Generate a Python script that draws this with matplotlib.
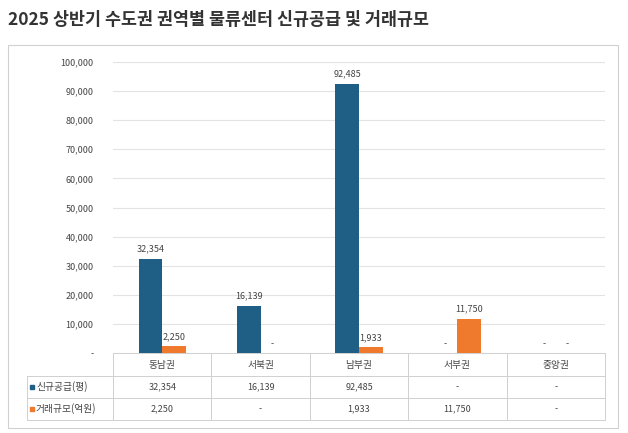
import matplotlib

matplotlib.use("Agg")

import matplotlib.pyplot as plt
import numpy as np
from matplotlib import font_manager
from matplotlib.patches import Rectangle

_avail = {f.name for f in font_manager.fontManager.ttflist}
_cjk = [n for n in ["Noto Sans CJK KR", "Noto Sans CJK JP", "Noto Sans CJK SC", "Noto Sans CJK TC"] if n in _avail]
plt.rcParams["font.family"] = _cjk + ["DejaVu Sans"]

regions = ["동남권", "서북권", "남부권", "서부권", "중앙권"]
supply = [32354, 16139, 92485, 0, 0]  # 0 = "-"
deals = [2250, 0, 1933, 11750, 0]
series_names = ["신규공급(평)", "거래규모(억원)"]
colors = ["#1f5f86", "#ef7a2e"]

W, H = 628, 433
fig = plt.figure(figsize=(W / 100, H / 100), dpi=100)


def fx(px):
    return px / W


def fy(py):
    return 1 - py / H


fig.text(fx(8), fy(20), "2025 상반기 수도권 권역별 물류센터 신규공급 및 거래규모",
         fontsize=12.5, fontweight="bold", color="#333333", va="center")
fig.patches.append(Rectangle((fx(8), fy(428)), fx(610), 383 / H, transform=fig.transFigure,
                             fill=False, edgecolor="#d0d0d0", lw=0.8))

left, right, top, bottom = 113, 605, 62, 353
ax = fig.add_axes([fx(left), fy(bottom), fx(right - left), (bottom - top) / H])
x = np.arange(len(regions))
bw = 0.24
for i, (vals, c) in enumerate(zip([supply, deals], colors)):
    off = (i - 0.5) * bw
    ax.bar(x + off, vals, bw, color=c, edgecolor="none")
    for xi, v in zip(x, vals):
        txt = f"{v:,}" if v else "-"
        ax.text(xi + off, v + 1800, txt, ha="center", va="bottom", fontsize=6.5, color="#444444")

ax.set_xlim(-0.5, len(regions) - 0.5)
ax.set_ylim(0, 100000)
ax.set_yticks(np.arange(0, 100001, 10000))
ax.set_yticklabels(["-"] + [f"{v:,}" for v in range(10000, 100001, 10000)], fontsize=6.5, color="#444444")
ax.yaxis.grid(True, color="#e3e3e3", lw=0.8)
ax.set_axisbelow(True)
ax.set_xticks([])
ax.tick_params(axis="y", length=0, pad=14)
for s in ax.spines.values():
    s.set_visible(False)

# data table
col_edges = np.linspace(left, right, len(regions) + 1)
row_edges = [353, 376, 398, 420]
tl = 27
line_kw = dict(color="#d0d0d0", lw=0.7, transform=fig.transFigure)
fig.add_artist(plt.Line2D([fx(left), fx(right)], [fy(353)] * 2, **line_kw))
for ry in row_edges[1:]:
    fig.add_artist(plt.Line2D([fx(tl), fx(right)], [fy(ry)] * 2, **line_kw))
for cx in col_edges:
    fig.add_artist(plt.Line2D([fx(cx)] * 2, [fy(353), fy(420)], **line_kw))
fig.add_artist(plt.Line2D([fx(tl)] * 2, [fy(376), fy(420)], **line_kw))

centers = (col_edges[:-1] + col_edges[1:]) / 2
for cx, r in zip(centers, regions):
    fig.text(fx(cx), fy(365), r, ha="center", va="center", fontsize=7, color="#444444")
for ri, (name, vals, c) in enumerate(zip(series_names, [supply, deals], colors)):
    yc = (row_edges[ri + 1] + row_edges[ri + 2]) / 2
    fig.patches.append(Rectangle((fx(tl + 3), fy(yc + 2)), fx(4), 4 / H,
                                 transform=fig.transFigure, color=c))
    fig.text(fx(tl + 9), fy(yc), name, ha="left", va="center", fontsize=7, color="#444444")
    for cx, v in zip(centers, vals):
        fig.text(fx(cx), fy(yc), f"{v:,}" if v else "-", ha="center", va="center",
                 fontsize=6.5, color="#444444")

fig.savefig("out.png", dpi=100)
